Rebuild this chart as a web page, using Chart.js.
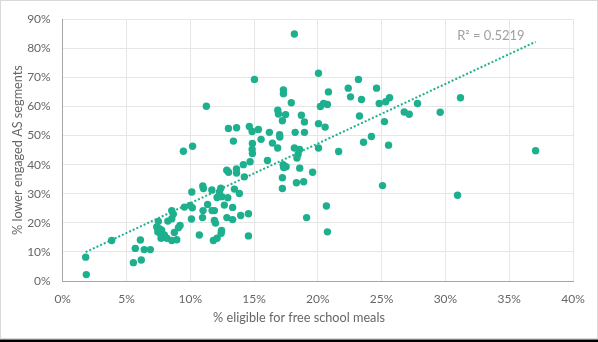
<!DOCTYPE html>
<html>
<head>
<meta charset="utf-8">
<script src="https://cdn.jsdelivr.net/npm/chart.js@4.4.1/dist/chart.umd.min.js"></script>
<style>
    html, body { margin: 0; padding: 0; background: #fff; }
    #wrap { position: relative; width: 598px; height: 342px; }
</style>
</head>
<body>
<div id="wrap"><canvas id="myChart" width="598" height="342"></canvas></div>
<script>
// % eligible for free school meals (x) against % in lower engaged AS segments (y), one entry per area
const fsmPct = [
    1.8, 1.85, 3.84, 5.69, 5.54, 6.09, 6.16, 6.39, 6.87, 7.5,
    7.37, 7.58, 7.45, 7.63, 7.76, 7.97, 7.71, 8.16, 8.55, 8.94,
    8.24, 8.55, 8.67, 8.55, 8.75, 9.07, 9.2, 9.54, 9.98, 10.16,
    10.09, 10.71, 10.96, 11.0, 11.36, 11.71, 11.89, 11.89, 11.98, 12.45,
    12.42, 12.1, 11.81, 12.87, 13.32, 12.67, 13.32, 12.1, 12.47, 12.94,
    10.12, 10.98, 11.03, 11.69, 12.39, 12.28, 13.46, 13.85, 14.56, 13.95,
    14.56, 9.46, 10.18, 14.87, 14.85, 14.87, 16.05, 16.85, 14.16, 14.69,
    12.86, 13.0, 13.62, 13.63, 14.24, 13.38, 12.99, 13.63, 14.63, 14.85,
    15.34, 15.55, 16.2, 16.44, 17.0, 17.02, 18.22, 18.95, 18.16, 18.57,
    18.45, 18.36, 20.05, 21.63, 17.28, 17.51, 17.32, 18.58, 19.59, 17.22,
    17.22, 18.32, 18.89, 20.67, 19.12, 20.75, 16.86, 16.91, 17.47, 17.22,
    18.71, 18.95, 20.2, 20.45, 20.75, 20.05, 20.57, 17.92, 17.3, 17.3,
    18.16, 15.03, 20.05, 20.83, 11.26, 22.38, 22.56, 23.18, 24.6, 23.42,
    24.81, 25.32, 25.62, 27.81, 31.18, 23.26, 25.22, 26.77, 27.16, 29.59,
    23.58, 24.2, 25.54, 37.07, 25.07, 30.95
];
const lowerAsPct = [
    8.2, 2.2, 13.9, 11.2, 6.3, 14.1, 7.2, 10.8, 10.8, 20.5,
    18.6, 18.0, 16.9, 16.4, 17.5, 15.8, 14.7, 14.7, 13.9, 14.2,
    20.6, 21.4, 23.0, 24.2, 16.7, 18.3, 19.1, 25.4, 26.0, 25.2,
    21.3, 15.8, 21.8, 24.2, 26.3, 24.2, 24.2, 20.8, 19.9, 17.4,
    16.4, 14.7, 13.9, 21.8, 21.1, 26.1, 25.3, 28.7, 29.0, 28.6,
    30.6, 32.7, 31.8, 31.3, 31.9, 30.5, 31.6, 30.1, 23.1, 22.5,
    15.5, 44.6, 46.3, 47.3, 45.2, 43.8, 41.4, 45.7, 40.0, 41.0,
    38.1, 37.4, 38.5, 37.1, 35.8, 48.1, 52.4, 52.7, 53.1, 51.4,
    52.1, 48.7, 51.1, 47.4, 50.3, 49.5, 51.1, 51.1, 45.7, 45.2,
    43.6, 42.3, 45.7, 44.5, 40.0, 39.3, 39.0, 38.8, 37.4, 35.5,
    31.8, 33.8, 34.1, 25.8, 21.8, 16.9, 58.7, 57.4, 57.2, 55.1,
    57.0, 54.7, 60.0, 61.0, 60.7, 54.1, 52.9, 61.3, 65.7, 64.4,
    84.9, 69.3, 71.4, 65.0, 60.1, 66.3, 63.3, 69.3, 66.3, 62.4,
    61.0, 61.6, 63.0, 61.0, 63.0, 56.7, 54.8, 58.1, 57.3, 58.0,
    47.7, 49.7, 46.7, 44.8, 32.8, 29.5
];

const xTicks = [0, 5, 10, 15, 20, 25, 30, 35, 40];
const yTicks = [0, 10, 20, 30, 40, 50, 60, 70, 80, 90];
const xTitle = "% eligible for free school meals";
const yTitle = "% lower engaged AS segments";
const r2Text = "R\u00b2 = 0.5219";

const teal = "#1eb08e";
const textGrey = "#666666";
const tickFont = { family: "Lato", size: 12 };
const titleFont = { family: "Lato", size: 12.7 };

const points = fsmPct.map((x, i) => ({ x: x, y: lowerAsPct[i] }));

// least squares trend over the observed x range
function linearTrend(xs, ys) {
    const n = xs.length;
    const mx = xs.reduce((a, b) => a + b, 0) / n;
    const my = ys.reduce((a, b) => a + b, 0) / n;
    let sxy = 0, sxx = 0;
    for (let i = 0; i < n; i++) {
        sxy += (xs[i] - mx) * (ys[i] - my);
        sxx += (xs[i] - mx) * (xs[i] - mx);
    }
    const slope = sxy / sxx;
    const icpt = my - slope * mx;
    const x0 = Math.min(...xs), x1 = Math.max(...xs);
    return [{ x: x0, y: icpt + slope * x0 }, { x: x1, y: icpt + slope * x1 }];
}
const trend = linearTrend(fsmPct, lowerAsPct);

const frame = {
    id: "frame",
    beforeDraw(chart) {
        const c = chart.ctx;
        c.save();
        c.fillStyle = "#fff";
        c.fillRect(0, 0, chart.width, chart.height);
        c.restore();
    },
    afterDraw(chart) {
        const c = chart.ctx;
        c.save();
        c.strokeStyle = "#d9d9d9";
        c.lineWidth = 1;
        c.strokeRect(0.5, 0.5, chart.width - 1, chart.height - 4);
        c.fillStyle = "#000";
        c.fillRect(0, chart.height - 2.5, chart.width, 2.5);
        // x axis title sits centred on the whole chart, not the plot area
        c.font = titleFont.size + "px " + titleFont.family;
        c.fillStyle = textGrey;
        c.textAlign = "center";
        c.textBaseline = "middle";
        c.fillText(xTitle, chart.width / 2, 318);
        c.restore();
    }
};

// R² text just above the right end of the trend line
const r2Label = {
    id: "r2Label",
    afterDatasetsDraw(chart) {
        const xs = chart.scales.x, ys = chart.scales.y;
        const end = trend[1];
        const c = chart.ctx;
        c.save();
        c.font = "13px Lato";
        c.fillStyle = "#a0a0a0";
        c.textAlign = "right";
        c.textBaseline = "middle";
        c.fillText(r2Text, xs.getPixelForValue(end.x) - 11, ys.getPixelForValue(end.y) - 6);
        c.restore();
    }
};

const ctx = document.getElementById("myChart").getContext("2d");

const myChart = new Chart(ctx, {
    type: "scatter",
    data: {
        datasets: [
            {
                type: "line",
                data: trend,
                borderColor: teal,
                borderWidth: 2,
                borderDash: [2, 2],
                pointRadius: 0,
                fill: false
            },
            {
                data: points,
                backgroundColor: teal,
                borderWidth: 0,
                pointRadius: 3.7,
                pointHoverRadius: 3.7
            }
        ]
    },
    options: {
        responsive: false,
        animation: false,
        devicePixelRatio: 1,
        layout: { padding: { left: 10, top: 10, right: 25, bottom: 0 } },
        plugins: {
            legend: { display: false },
            tooltip: { enabled: false }
        },
        scales: {
            x: {
                type: "linear",
                min: 0,
                max: 40,
                afterBuildTicks: (s) => { s.ticks = xTicks.map(v => ({ value: v })); },
                afterFit: (s) => { s.height = 61; },
                grid: { color: "#e6e6e6", drawTicks: false },
                border: { color: "#a6a6a6" },
                ticks: { color: textGrey, font: tickFont, padding: 11, callback: v => v + "%" }
            },
            y: {
                type: "linear",
                min: 0,
                max: 90,
                afterBuildTicks: (s) => { s.ticks = yTicks.map(v => ({ value: v })); },
                afterFit: (s) => { s.width = 52.7; },
                grid: { color: "#e6e6e6", drawTicks: false },
                border: { color: "#a6a6a6" },
                ticks: { color: textGrey, font: tickFont, padding: 12, callback: v => v + "%" },
                title: {
                    display: true,
                    text: yTitle,
                    color: textGrey,
                    font: titleFont,
                    padding: 0
                }
            }
        }
    },
    plugins: [frame, r2Label]
});
</script>
</body>
</html>
